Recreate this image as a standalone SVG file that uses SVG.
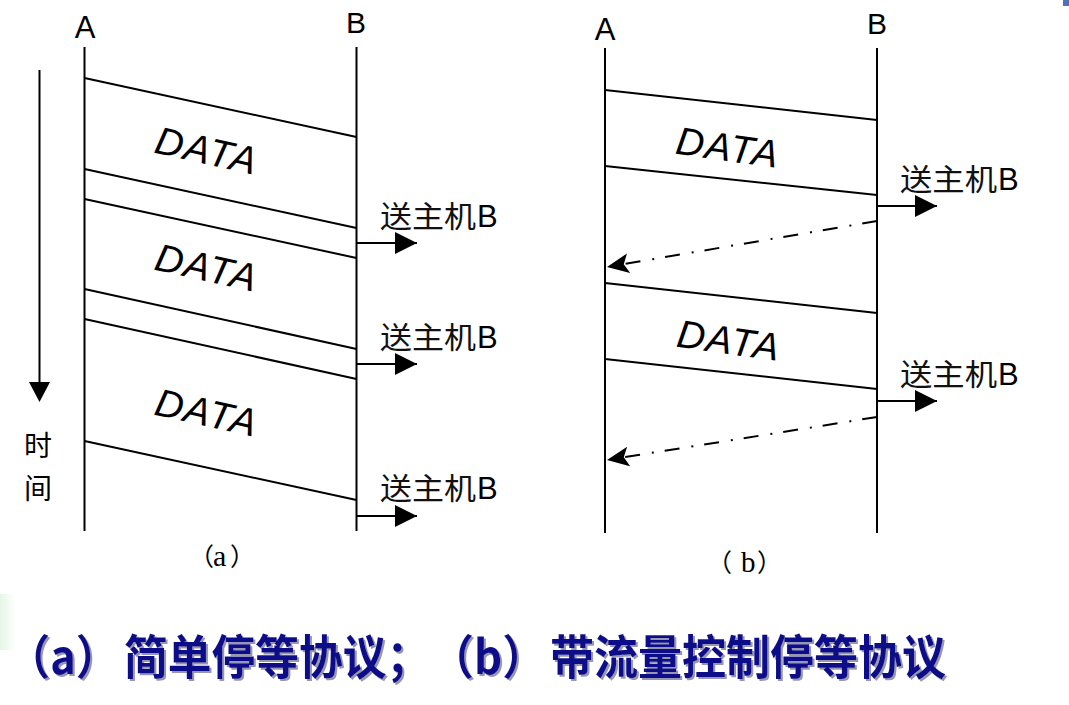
<svg xmlns="http://www.w3.org/2000/svg" width="1069" height="705" viewBox="0 0 1069 705">
<style>
.ln{stroke:#000;stroke-width:2;fill:none}
.lbl{font-family:"Liberation Sans","Noto Sans CJK SC",sans-serif;fill:#000}
.data{font-family:"Liberation Sans",sans-serif;font-style:italic;font-size:39px;fill:#000;text-anchor:middle}
.cjk{font-family:"Noto Sans CJK SC",sans-serif;font-size:30px;fill:#111}
.bb{font-family:"Liberation Sans",sans-serif;font-size:31px;fill:#000}
.sub{font-family:"Liberation Serif","Noto Sans CJK SC",serif;font-size:25px;fill:#000}
.dash{stroke:#000;stroke-width:2;fill:none;stroke-dasharray:15 11 2 12}
.cap{font-family:"Noto Sans CJK SC",sans-serif;font-weight:bold;font-size:47px;fill:#10108a;text-spacing-trim:space-all;font-kerning:none}
</style>
<defs>
<marker id="arr" markerUnits="userSpaceOnUse" markerWidth="22" markerHeight="22" refX="22" refY="11" orient="auto">
<path d="M0,0 L22,11 L0,22 z" fill="#000"/>
</marker>
<marker id="barb" markerUnits="userSpaceOnUse" markerWidth="24" markerHeight="22" refX="22" refY="11" orient="auto">
<path d="M0,1 L22,11 L0,21 L5,11 z" fill="#000"/>
</marker>
<linearGradient id="gr" x1="0" y1="0" x2="1" y2="0">
<stop offset="0" stop-color="#e6f6e6"/>
<stop offset="1" stop-color="#ffffff"/>
</linearGradient>
<filter id="shadow" x="-5%" y="-20%" width="110%" height="140%">
<feDropShadow dx="2" dy="2" stdDeviation="0.6" flood-color="#6a6a90" flood-opacity="0.7"/>
</filter>
</defs>
<rect width="1069" height="705" fill="#fff"/>
<rect x="1063" y="0" width="6" height="6" fill="#4a72c0"/>
<rect x="0" y="594" width="16" height="56" fill="url(#gr)"/>

<!-- (a) -->
<g id="a-timeline">
<line class="ln" x1="84.5" y1="47" x2="84.5" y2="531"/>
<line class="ln" x1="356.5" y1="47" x2="356.5" y2="531"/>
<text class="lbl" x="85" y="38" font-size="31" text-anchor="middle">A</text>
<text class="lbl" x="356" y="33" font-size="30" text-anchor="middle">B</text>
</g>
<g id="a-time">
<line class="ln" x1="39.5" y1="70" x2="39.5" y2="384"/>
<polygon points="29,382 50,382 39.5,402" fill="#000"/>
<text class="lbl" x="38" y="456" font-size="28" text-anchor="middle">时</text>
<text class="lbl" x="38" y="499" font-size="28" text-anchor="middle">间</text>
</g>
<g id="a-connectors">
<line class="ln" x1="84.5" y1="78" x2="356.5" y2="137"/>
<line class="ln" x1="84.5" y1="169" x2="356.5" y2="228"/>
<line class="ln" x1="84.5" y1="199" x2="356.5" y2="258"/>
<line class="ln" x1="84.5" y1="289" x2="356.5" y2="349"/>
<line class="ln" x1="84.5" y1="319" x2="356.5" y2="379"/>
<line class="ln" x1="84.5" y1="441" x2="356.5" y2="500"/>
<line class="ln" x1="356.5" y1="243" x2="417" y2="243" marker-end="url(#arr)"/>
<line class="ln" x1="356.5" y1="364" x2="417" y2="364" marker-end="url(#arr)"/>
<line class="ln" x1="356.5" y1="516" x2="417" y2="516" marker-end="url(#arr)"/>
</g>
<g id="a-data1" transform="translate(207,150) rotate(12.5)"><text class="data" x="0" y="14" letter-spacing="1.5">DATA</text></g>
<g id="a-data2" transform="translate(207,267) rotate(12.5)"><text class="data" x="0" y="14" letter-spacing="1.5">DATA</text></g>
<g id="a-data3" transform="translate(207,412) rotate(12.5)"><text class="data" x="0" y="14" letter-spacing="1.5">DATA</text></g>
<g id="a-send1"><text x="380" y="227"><tspan class="cjk" textLength="96" lengthAdjust="spacingAndGlyphs">送主机</tspan><tspan class="bb" x="477">B</tspan></text></g>
<g id="a-send2"><text x="380" y="348"><tspan class="cjk" textLength="96" lengthAdjust="spacingAndGlyphs">送主机</tspan><tspan class="bb" x="477">B</tspan></text></g>
<g id="a-send3"><text x="380" y="499"><tspan class="cjk" textLength="96" lengthAdjust="spacingAndGlyphs">送主机</tspan><tspan class="bb" x="477">B</tspan></text></g>
<g id="a-caption"><text class="sub" y="566"><tspan x="189">（</tspan><tspan x="213" font-size="30">a</tspan><tspan x="230">）</tspan></text></g>

<!-- (b) -->
<g id="b-timeline">
<line class="ln" x1="605" y1="48" x2="605" y2="533"/>
<line class="ln" x1="877" y1="48" x2="877" y2="533"/>
<text class="lbl" x="605" y="40" font-size="31" text-anchor="middle">A</text>
<text class="lbl" x="877" y="34" font-size="30" text-anchor="middle">B</text>
</g>
<g id="b-connectors">
<line class="ln" x1="605" y1="90" x2="877" y2="120"/>
<line class="ln" x1="605" y1="166" x2="877" y2="195"/>
<line class="ln" x1="605" y1="283" x2="877" y2="313"/>
<line class="ln" x1="605" y1="359" x2="877" y2="389"/>
<line class="ln" x1="877" y1="206" x2="937" y2="206" marker-end="url(#arr)"/>
<line class="ln" x1="877" y1="401" x2="937" y2="401" marker-end="url(#arr)"/>
<line class="dash" x1="877" y1="221" x2="607" y2="267" marker-end="url(#barb)"/>
<line class="dash" x1="877" y1="417" x2="607" y2="460" marker-end="url(#barb)"/>
</g>
<g id="b-data1" transform="translate(728,147) rotate(8)"><text class="data" x="0" y="14" letter-spacing="1.5">DATA</text></g>
<g id="b-data2" transform="translate(729,340) rotate(8)"><text class="data" x="0" y="14" letter-spacing="1.5">DATA</text></g>
<g id="b-send1"><text x="900" y="190"><tspan class="cjk" textLength="97" lengthAdjust="spacingAndGlyphs">送主机</tspan><tspan class="bb" x="998">B</tspan></text></g>
<g id="b-send2"><text x="900" y="385"><tspan class="cjk" textLength="97" lengthAdjust="spacingAndGlyphs">送主机</tspan><tspan class="bb" x="998">B</tspan></text></g>
<g id="b-caption"><text class="sub" y="572"><tspan x="707">（</tspan><tspan x="741" font-size="29">b</tspan><tspan x="757">）</tspan></text></g>

<!-- caption -->
<g id="title" filter="url(#shadow)">
<text class="cap" x="7" y="674" textLength="112" lengthAdjust="spacingAndGlyphs">（a）</text>
<text class="cap" x="124" y="674" textLength="422" lengthAdjust="spacingAndGlyphs">简单停等协议；（b）</text>
<text class="cap" x="550" y="674" textLength="396" lengthAdjust="spacingAndGlyphs">带流量控制停等协议</text>
</g>
</svg>
